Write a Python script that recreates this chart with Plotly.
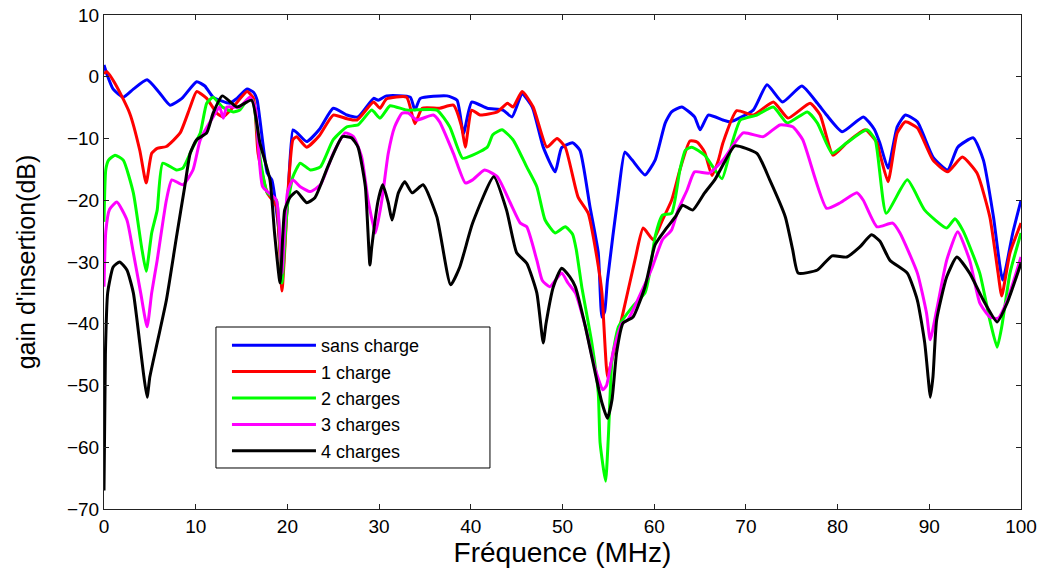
import plotly.graph_objects as go

# ---------------- data ----------------
freq_sans = [0, 0.3, 1, 2.1, 3.2, 4.7, 6, 7.2, 8.5, 10.1, 11, 11.9, 13.7, 14.5, 15.6, 16.3, 16.7,
             17.8, 18.3, 19, 19.3, 19.7, 20, 20.6, 21, 22.1, 23.5, 25, 26.5, 27.7, 29.4, 29.9, 30.8,
             33.4, 33.9, 34.5, 37.4, 38.5, 39.2, 40.1, 41.8, 43.5, 44.5, 45.6, 46.7, 47.9, 49.2,
             49.9, 51.1, 51.9, 53, 53.9, 54.3, 54.6, 54.9, 56.1, 56.8, 57.6, 59, 60.1, 61.2, 61.9,
             63, 64.4, 65, 65.9, 67.5, 68.3, 70.8, 72.3, 74, 76.1, 77.8, 78.8, 80.5, 82.8, 84,
             84.6, 85.5, 86.5, 87.4, 88.7, 90.4, 92, 93.1, 94.8, 95.9, 97, 98, 99.1, 100]
gain_sans = [1.9, 0.5, -2, -3.3, -2, -0.5, -2.5, -4.6, -3.5, -0.8, -1.5, -3.3, -4.3, -3.5, -2, -2.5, -3.8,
             -15.6, -16.7, -24, -29, -25, -21, -8.6, -9, -10.5, -8.5, -5.1, -6.2, -6.5, -3.5, -3.8, -3.1,
             -3.3, -5.4, -3.5, -3.1, -3.8, -9.2, -4.1, -5.1, -5.4, -6.5, -2.8, -4.9, -11.4, -15.4,
             -11.5, -10.7, -11.9, -21.1, -28.5, -38.9, -38, -33, -18.8, -12.2, -13.5, -15.9, -13.5, -7.5, -5.7,
             -4.9, -6.5, -8.6, -6.2, -7, -7.3, -5.4, -1.3, -4.1, -1.5, -4.3, -6.2, -8.9, -6.5, -8.5,
             -10.7, -14.8, -8.1, -6.2, -7.3, -13, -15.1, -11.4, -9.9, -13.5, -22.7, -32.9, -25.3, -20]

freq_1 = [0, 0.3, 1.4, 2.8, 3.9, 4.6, 5.2, 5.8, 6.8, 8.3, 9.4, 10.1, 11.2, 12.3, 13, 14.1, 15.6, 16.3,
          16.8, 17.8, 18.8, 19.4, 20.1, 20.6, 21, 22.1, 23.5, 25, 26.5, 27.6, 29.4, 30.1, 30.8, 33,
          33.9, 34.7, 36.6, 38.1, 39, 39.4, 40.1, 41, 42.9, 44, 44.6, 45.6, 46.8, 48.3, 49.4, 50.3,
          51.7, 52.8, 53.8, 54.3, 54.9, 55.2, 56.5, 57.9, 58.8, 59.9, 60.9, 61.9, 62.8, 63.9, 64.7,
          65.5, 66.3, 67, 67.5, 69, 70.8, 73, 74.6, 77, 78.1, 79.5, 81, 83, 84.3, 84.6, 85.5, 86.5,
          87.4, 88.7, 90.4, 92, 93.6, 95.2, 96.6, 97.5, 97.9, 98.8, 100]
gain_1 = [0.5, 0.8, -1.6, -5.9, -11.9, -17.2, -12.4, -11.6, -11.3, -9.1, -4.9, -2.4, -3.5, -5.9, -6.5, -4.9, -2.4, -3.5,
          -12.4, -18.8, -21, -34.7, -17.8, -10.2, -9.7, -11.4, -9.5, -6.2, -6.8, -7, -4.1, -5.1, -3.6, -3.3,
          -7.6, -5.1, -5.1, -4.6, -8.1, -11.4, -5.4, -6.2, -5.7, -4.3, -4.9, -2.4, -4.9, -11.4, -10, -11.4,
          -19.5, -22.1, -29.7, -35, -48.6, -47, -38.9, -29.7, -24.5, -26.4, -23.2, -20, -15.1, -10.4, -10.6,
          -12.2, -16, -13.5, -10.7, -5.5, -6.2, -4.1, -6.7, -4.3, -6.2, -12.7, -10.7, -8.6, -10.7, -12.4, -17, -9.1,
          -7.3, -8.3, -13.5, -15.4, -13, -15.6, -22.7, -31.8, -35.5, -28.5, -23.7]

freq_2 = [0, 0.2, 0.5, 1.2, 2.1, 3.2, 4.1, 4.6, 5.2, 5.8, 6.4, 7.9, 8.6, 9.7, 10.5, 11.2, 11.9, 12.9,
          14.1, 14.8, 15.6, 16.2, 17, 17.8, 18.8, 19.4, 20, 20.6, 21.4, 22.5, 23.6, 25, 26.5, 27.7,
          29.2, 30.1, 31.2, 33, 36.3, 37.7, 39.1, 40.2, 41.8, 42.4, 43.4, 44.6, 46.1, 47.2, 48.1,
          49.2, 50.3, 51.1, 51.5, 52.1, 53.2, 53.9, 54.1, 54.7, 55, 55.4, 56.1, 57.6, 59, 59.5, 60.1,
          60.9, 61.9, 62.8, 63.4, 64.1, 65.5, 66.4, 67.4, 68.6, 69.4, 71.2, 73, 74.5, 76.7, 77.8,
          79.4, 81, 83.2, 84.1, 85.3, 87.6, 89.5, 91.9, 92.8, 93.7, 95.5, 96.6, 97.4, 97.9, 98.8, 100]
gain_2 = [-23.5, -15, -13.5, -12.7, -13.5, -18.8, -27.6, -31.5, -25.3, -21.6, -14, -15.1, -14.8, -11.4, -9.1, -4.3, -3.3, -4.9,
          -5.7, -5.4, -3.8, -3.8, -13, -18.8, -20, -33.4, -21, -16.2, -14, -15.1, -14.6, -10.2, -8.1, -7.8,
          -5.4, -6.7, -4.7, -5.4, -5.4, -8.1, -13.2, -12.7, -11.4, -9.4, -8.6, -10.2, -14.6, -17.8, -23.2,
          -25.3, -24.3, -25.5, -28, -34, -43.1, -51.2, -59.3, -65.5, -58.3, -45.9, -40.5, -37.3, -35, -31.8, -25.9,
          -22.4, -22.1, -15.1, -11.9, -11.4, -12.7, -14.6, -16.5, -10.2, -7, -6.2, -4.9, -7.5, -5.7, -7.5,
          -12.4, -10.7, -8.6, -10.2, -22.1, -16.7, -21.6, -24.5, -23, -25, -31.8, -39.4, -43.8, -40.5, -31.8, -25.3]

freq_3 = [0, 0.2, 0.6, 1.4, 2.5, 3.2, 4, 4.7, 5.2, 5.8, 6.8, 7.4, 8.6, 9.7, 10.5, 11.9, 12.6, 13,
          13.4, 14.8, 15.9, 16.5, 17.3, 18.8, 19.4, 20, 20.6, 21.4, 22.5, 23.6, 25, 26.3, 27.2, 28.1,
          28.8, 29.6, 30.3, 31, 31.7, 32.5, 33.2, 34.1, 35.9, 36.6, 38.1, 39.4, 40.2, 41.5, 42.9,
          44.3, 45.4, 46.1, 47.2, 47.8, 48.6, 49.9, 50.6, 51.4, 52.5, 53.5, 54.4, 54.8, 55.5, 56.5,
          57.1, 58.7, 59.8, 60.9, 61.9, 62.6, 63.6, 64.4, 66, 67.5, 69.7, 71.9, 73.7, 75.1, 76.2,
          78.8, 80.3, 82.1, 82.8, 84.3, 86, 86.8, 88.7, 89.7, 90.1, 90.8, 91.9, 93.1, 94.4, 95.5,
          96.6, 97.5, 98.5, 100]
gain_3 = [-34, -25, -21.5, -20.3, -23.2, -28.5, -35, -40.5, -35, -29.7, -20, -16.7, -17.5, -15.1, -10.2, -6.5, -4.9, -6.7,
          -4.9, -4.9, -3.3, -5, -17.8, -20, -31.8, -18.8, -16.7, -17.8, -18.6, -17.5, -12.4, -9.1, -9.7, -13,
          -20, -25.3, -20, -12.4, -8.1, -5.9, -5.9, -7, -6.2, -7.3, -12.4, -17.2, -16.7, -15.1, -16.2,
          -20.4, -23.7, -24.3, -29.7, -33, -34, -31.8, -33.4, -35, -40.5, -47, -50.7, -50, -44.7, -39.9,
          -39.4, -34.5, -30.8, -26.4, -24.8, -21.6, -18.3, -15.4, -15.6, -13.5, -9.1, -9.7, -7.8, -8.1, -10.2,
          -21.3, -20.4, -18.8, -20, -24.3, -23.7, -25.3, -31.8, -38.3, -42.6, -37.8, -29.7, -25.1, -29.7, -36.6,
          -38.9, -39.1, -36.2, -29.2]

freq_4 = [0, 0.15, 0.4, 1, 1.7, 2.5, 3.2, 3.9, 4.3, 4.7, 5, 5.8, 6.8, 7.9, 8.8, 9.4, 10.1, 11.2, 11.9,
          12.9, 14.5, 16.1, 17, 18.1, 18.6, 19.2, 19.7, 20.3, 21, 22.1, 23, 24.4, 26, 27, 27.7, 28.5,
          29, 29.2, 29.9, 30.4, 31, 31.4, 32.1, 32.8, 33.6, 34.8, 36.3, 37.8, 38.8, 40.2, 42.5, 43.9,
          45, 46.1, 47.2, 47.9, 48.2, 49, 49.9, 50.8, 51.4, 52.5, 53.5, 54.3, 54.9, 55.4, 55.9, 56.6,
          57.7, 59, 60.1, 61.2, 62.3, 63.1, 64.2, 65.5, 66.6, 67.6, 68.8, 71.2, 72.6, 74.3, 75.1, 75.7,
          77.8, 79.4, 81, 82.4, 83.7, 84.6, 85.7, 87.6, 88.7, 89.5, 89.9, 90.1, 90.4, 90.8, 91.9, 93,
          94.4, 95.9, 97.4, 98.5, 100]
gain_4 = [-67, -45, -35, -30.8, -30, -31.3, -35, -43.1, -48, -51.9, -48.6, -43.1, -36.2, -26, -17.8, -12.4, -10.2, -9.1, -5.9,
          -3.1, -4.9, -3.8, -10.7, -16.7, -25.3, -33.4, -21.6, -19.5, -18.6, -20.4, -19.6, -14.6, -9.7, -9.9, -11.4, -17.8,
          -30.5, -27.6, -20, -17.5, -20.4, -23.2, -18.8, -17, -18.8, -17.5, -22.7, -33.7, -30.8, -23.7, -16.2, -21.6,
          -28.5, -30.2, -35, -43.1, -40, -34, -31, -32.4, -34, -40.5, -47.5, -52.8, -55.3, -52.3, -44.7, -39.9,
          -38.9, -34, -27.2, -24.8, -22.7, -20.8, -21.6, -18.8, -16.7, -14, -11.2, -12.4, -16.7, -22.7, -28, -31.8,
          -31.3, -29, -29.2, -27.6, -25.6, -26.6, -29.7, -31.8, -36.2, -43.1, -49.1, -51.9, -48.6, -39.4, -32.4, -29.2,
          -31.8, -36.2, -39.7, -36.6, -30.2]

series_names = ["sans charge", "1 charge", "2 charges", "3 charges", "4 charges"]
series_colors = ["#0000FF", "#FF0000", "#00FF00", "#FF00FF", "#000000"]
series_x = [freq_sans, freq_1, freq_2, freq_3, freq_4]
series_y = [gain_sans, gain_1, gain_2, gain_3, gain_4]

x_ticks = [0, 10, 20, 30, 40, 50, 60, 70, 80, 90, 100]
y_ticks = [10, 0, -10, -20, -30, -40, -50, -60, -70]

# ---------------- figure ----------------
FONT = "Liberation Sans, Arial, Helvetica, sans-serif"
fig = go.Figure()
for name, color, xs, ys in zip(series_names, series_colors, series_x, series_y):
    fig.add_trace(go.Scatter(x=xs, y=ys, mode="lines", name=name,
                             line=dict(color=color, width=3, shape="spline", smoothing=0.5)))

axis_common = dict(showline=True, linecolor="#222222", linewidth=1, mirror="ticks",
                   ticks="inside", ticklen=5, tickcolor="#222222", showgrid=False,
                   zeroline=False, tickfont=dict(family=FONT, size=19, color="black"))

# legend frame (box drawn as a paper-anchored rectangle, legend entries inside it)
fig.add_shape(type="rect", xref="paper", yref="paper",
              x0=0.1221, x1=0.4209, y0=0.0830, y1=0.3684,
              fillcolor="white", line=dict(color="black", width=1), layer="above")

fig.update_layout(
    width=1048, height=568,
    margin=dict(l=104, r=27, t=15, b=59),
    paper_bgcolor="white", plot_bgcolor="white",
    font=dict(family=FONT, color="black"),
    showlegend=True,
    legend=dict(x=0.1341, y=0.3684, xanchor="left", yanchor="top",
                bgcolor="rgba(0,0,0,0)", borderwidth=0,
                font=dict(family=FONT, size=18, color="black"),
                itemwidth=84, tracegroupgap=0),
    xaxis=dict(range=[0, 100], tickvals=x_ticks, automargin=False,
               title=dict(text="Fréquence (MHz)", font=dict(family=FONT, size=28), standoff=5),
               **axis_common),
    yaxis=dict(range=[-70, 10], tickvals=y_ticks, automargin=False,
               title=dict(text="gain d'insertion(dB)", font=dict(family=FONT, size=25), standoff=24),
               **axis_common),
)

fig.write_html("out.html")
